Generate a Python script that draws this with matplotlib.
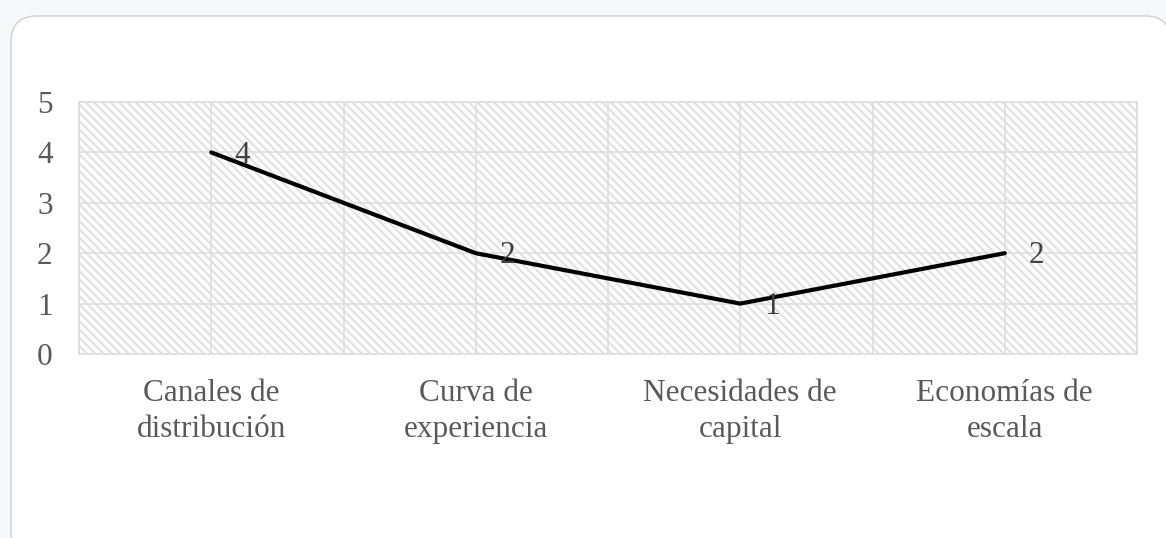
import matplotlib.pyplot as plt
from matplotlib.patches import FancyBboxPatch, Rectangle
from matplotlib.transforms import IdentityTransform

categories = ["Canales de\ndistribución", "Curva de\nexperiencia",
              "Necesidades de\ncapital", "Economías de\nescala"]
values = [4, 2, 1, 2]
y_ticks = [0, 1, 2, 3, 4, 5]

plt.rcParams['font.family'] = ['Liberation Serif', 'DejaVu Serif']
plt.rcParams['hatch.color'] = '#e2e2e2'
plt.rcParams['hatch.linewidth'] = 1.6

W, H = 1166, 538
fig = plt.figure(figsize=(W / 100, H / 100), dpi=100)
fig.patch.set_facecolor('#f6f8fa')

# white card with rounded corners behind the chart (pixel coordinates)
card = FancyBboxPatch((11, -20), 1160, H - 16 + 20,
                      boxstyle="round,pad=0,rounding_size=26",
                      transform=IdentityTransform(), facecolor='white',
                      edgecolor='#d6d6d6', linewidth=1.2, zorder=-5)
fig.patches.append(card)

ax = fig.add_axes([79 / W, (H - 354) / H, (1137 - 79) / W, (354 - 102) / H])
ax.set_facecolor('white')
ax.add_patch(Rectangle((0, 0), 1, 1, transform=ax.transAxes, facecolor='white',
                       edgecolor='#e2e2e2', linewidth=0, hatch='\\\\\\\\',
                       zorder=0.5))

x = list(range(1, len(values) + 1))
ax.plot(x, values, color='black', linewidth=3.0, solid_capstyle='round',
        solid_joinstyle='miter', zorder=3)

for xi, v in zip(x, values):
    ax.annotate(str(v), (xi, v), xytext=(17, -2), textcoords='offset points',
                ha='left', va='center', fontsize=22.5, color='#404040', zorder=4)

ax.set_xlim(0.5, len(values) + 0.5)
ax.set_ylim(0, 5)
ax.set_yticks(y_ticks)
ax.set_xticks(x)
ax.set_xticklabels(categories, linespacing=1.3)
ax.set_xticks([i + 0.5 for i in range(len(values) + 1)], minor=True)
ax.tick_params(axis='both', length=0, labelsize=22.5, colors='#595959')
ax.tick_params(axis='y', pad=19)
ax.tick_params(axis='x', pad=18)
ax.tick_params(which='minor', length=0)

ax.grid(True, which='both', color='#dcdcdc', linewidth=1.1, zorder=1)
ax.set_axisbelow(True)
for s in ax.spines.values():
    s.set_color('#dcdcdc')
    s.set_linewidth(1.1)

fig.savefig('out.png', dpi=100, facecolor=fig.get_facecolor())
